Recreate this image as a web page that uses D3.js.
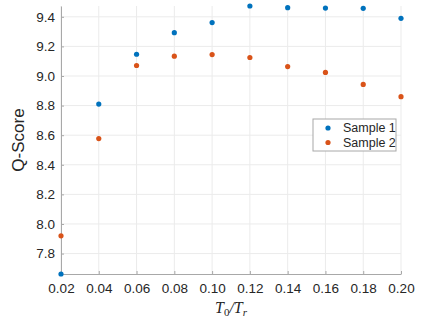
<!DOCTYPE html>
<html>
<head>
<meta charset="utf-8">
<script src="https://d3js.org/d3.v7.min.js"></script>
<style>
  body { margin: 0; background: #fff; }
  text { font-family: "Liberation Sans", Arial, sans-serif; }
</style>
</head>
<body>
<div id="chart"></div>
<script>
// Data
const ratios = [0.02, 0.04, 0.06, 0.08, 0.10, 0.12, 0.14, 0.16, 0.18, 0.20];
const sample1 = [7.662, 8.81, 9.147, 9.293, 9.361, 9.473, 9.462, 9.459, 9.457, 9.39];
const sample2 = [7.92, 8.577, 9.071, 9.134, 9.145, 9.125, 9.064, 9.024, 8.943, 8.86];
const seriesNames = ["Sample 1", "Sample 2"];
const yTicks = [7.8, 8.0, 8.2, 8.4, 8.6, 8.8, 9.0, 9.2, 9.4];

// Chart sizing
const W = 444, H = 318;
const margin = { top: 6, right: 43, bottom: 44, left: 61 };
const width = W - margin.left - margin.right;
const height = H - margin.top - margin.bottom;

const colors = ["#0072BD", "#D95319"];

const svg = d3.select("#chart").append("svg")
    .attr("width", W)
    .attr("height", H);

const plot = svg.append("g")
    .attr("transform", `translate(${margin.left},${margin.top})`);

const x = d3.scaleLinear().domain([0.02, 0.20]).range([0, width]);
const y = d3.scaleLinear().domain([7.662, 9.473]).range([height, 0]);

// Grid
plot.append("g")
    .selectAll("line.gx")
    .data(ratios)
    .enter().append("line")
        .attr("x1", d => x(d)).attr("x2", d => x(d))
        .attr("y1", 0).attr("y2", height)
        .attr("stroke", "#ebebeb").attr("stroke-width", 1);

plot.append("g")
    .selectAll("line.gy")
    .data(yTicks)
    .enter().append("line")
        .attr("x1", 0).attr("x2", width)
        .attr("y1", d => y(d)).attr("y2", d => y(d))
        .attr("stroke", "#ebebeb").attr("stroke-width", 1);

// Axes
const xAxis = plot.append("g")
    .attr("transform", `translate(0,${height})`)
    .call(d3.axisBottom(x).tickValues(ratios).tickFormat(d3.format(".2f"))
        .tickSizeInner(-3).tickSizeOuter(0).tickPadding(9));

const yAxis = plot.append("g")
    .call(d3.axisLeft(y).tickValues(yTicks).tickFormat(d3.format(".1f"))
        .tickSizeInner(-3).tickSizeOuter(0).tickPadding(6));

[xAxis, yAxis].forEach(ax => {
    ax.select(".domain").attr("stroke", "#a8a8a8");
    ax.selectAll(".tick line").attr("stroke", "#a8a8a8");
    ax.selectAll(".tick text")
        .attr("fill", "#262626")
        .style("font-size", "13.5px")
        .style("font-family", "'Liberation Sans', Arial, sans-serif");
});

// Points
[sample1, sample2].forEach((vals, i) => {
    plot.append("g")
        .selectAll("circle")
        .data(vals)
        .enter().append("circle")
            .attr("cx", (d, j) => x(ratios[j]))
            .attr("cy", d => y(d))
            .attr("r", 2.6)
            .attr("fill", colors[i]);
});

// Axis labels
svg.append("text")
    .attr("transform", `translate(24,${margin.top + height / 2}) rotate(-90)`)
    .attr("text-anchor", "middle")
    .attr("fill", "#262626")
    .style("font-size", "17px")
    .text("Q-Score");

const xl = svg.append("text")
    .attr("x", margin.left + width / 2)
    .attr("y", 313)
    .attr("text-anchor", "middle")
    .attr("fill", "#262626")
    .style("font-family", "'Liberation Serif', 'Times New Roman', serif")
    .style("font-style", "italic")
    .style("font-size", "16px");
xl.append("tspan").text("T");
xl.append("tspan").attr("dy", 3).style("font-size", "11px").style("font-style", "normal").text("0");
xl.append("tspan").attr("dy", -3).text("/T");
xl.append("tspan").attr("dy", 3).style("font-size", "11px").text("r");

// Legend
const legend = svg.append("g").attr("transform", "translate(313,119)");
legend.append("rect")
    .attr("width", 83).attr("height", 32)
    .attr("fill", "#fff")
    .attr("stroke", "#a8a8a8").attr("stroke-width", 1);

seriesNames.forEach((name, i) => {
    const row = legend.append("g").attr("transform", `translate(0,${9 + i * 14.5})`);
    row.append("circle").attr("cx", 15).attr("cy", 0).attr("r", 2.6).attr("fill", colors[i]);
    row.append("text")
        .attr("x", 30).attr("y", 0).attr("dy", "0.35em")
        .attr("fill", "#262626")
        .style("font-size", "12.5px")
        .text(name);
});
</script>
</body>
</html>
